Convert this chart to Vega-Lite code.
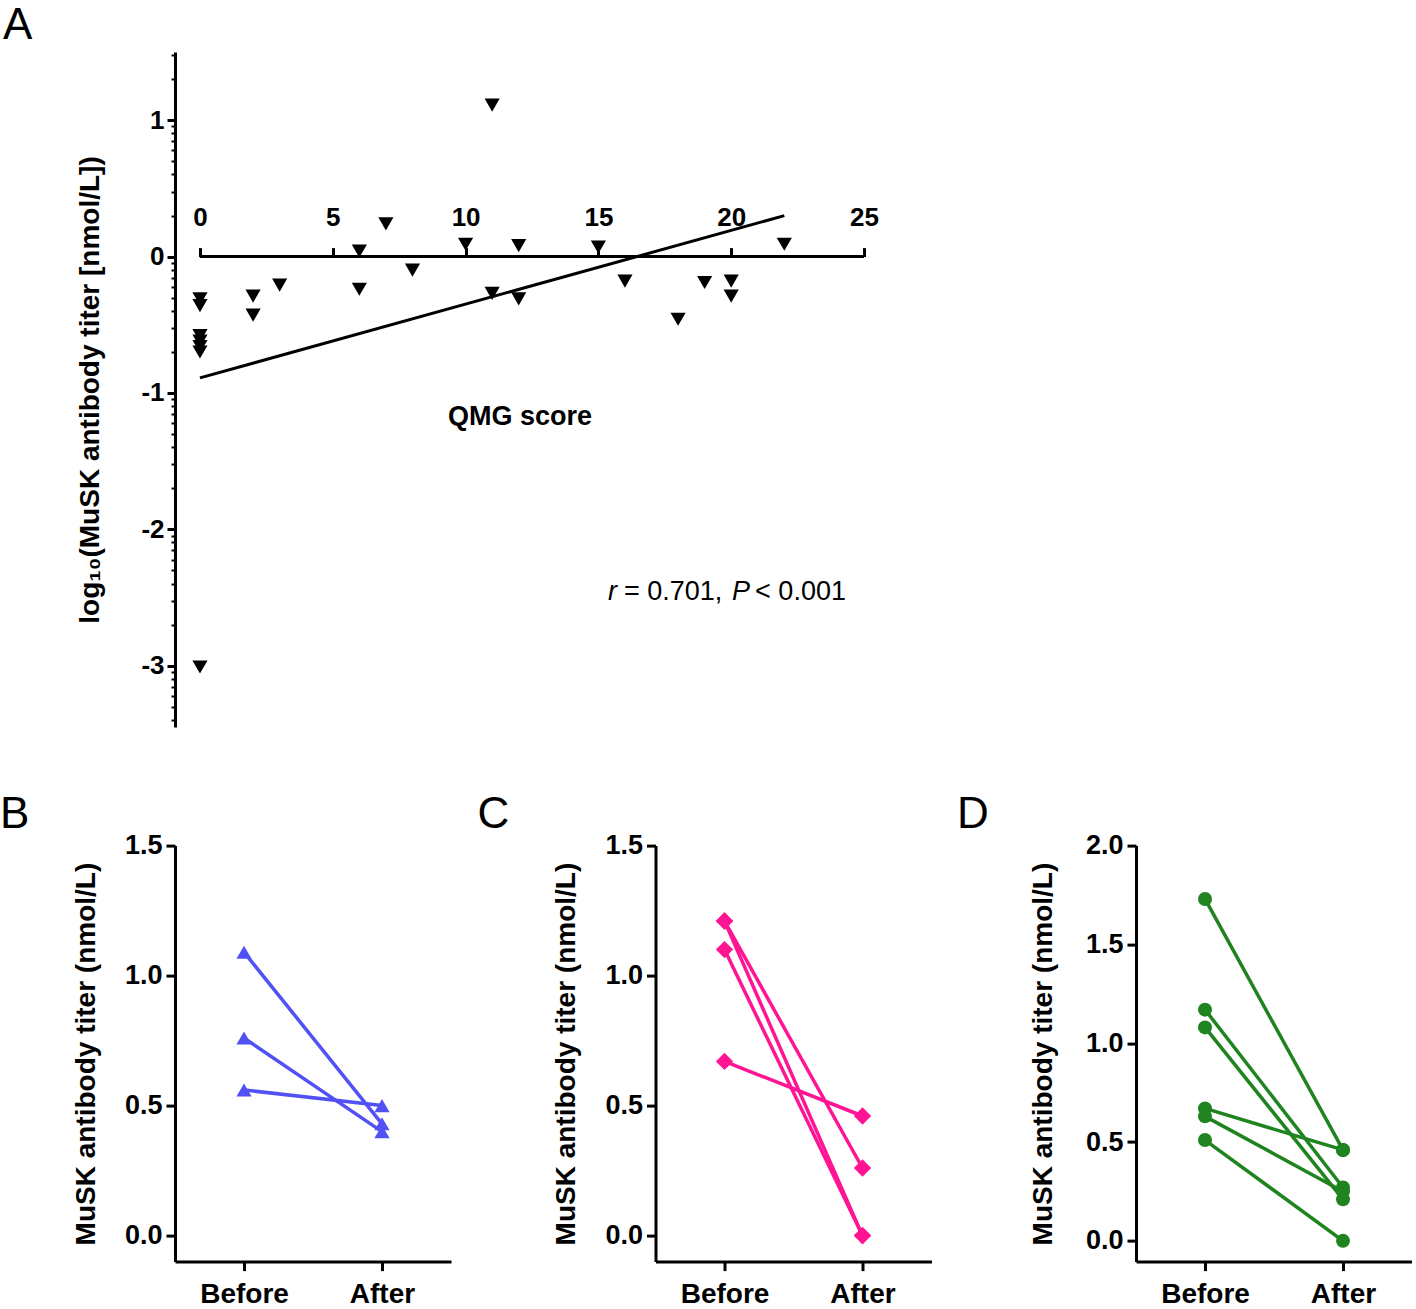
{
  "$schema": "https://vega.github.io/schema/vega-lite/v6.json",
  "padding": {"left": 0, "top": 4, "right": 0, "bottom": 0},
  "background": "white",
  "config": {
    "font": "Liberation Sans",
    "view": {"stroke": null},
    "axis": {"grid": false, "domainColor": "black", "tickColor": "black", "labelColor": "black", "titleColor": "black", "domainWidth": 3, "tickWidth": 3, "labelFontWeight": "bold", "titleFontWeight": "bold"},
    "title": {"color": "black", "fontWeight": "normal", "fontSize": 44, "anchor": "start", "frame": "group", "baseline": "alphabetic"}
  },
  "datasets": {
    "scatter": [
      {"qmg": 0, "log_titer": -0.31}, {"qmg": 0, "log_titer": -0.36}, {"qmg": 0, "log_titer": -0.58},
      {"qmg": 0, "log_titer": -0.62}, {"qmg": 0, "log_titer": -0.66}, {"qmg": 0, "log_titer": -0.70},
      {"qmg": 0, "log_titer": -3.01},
      {"qmg": 2, "log_titer": -0.29}, {"qmg": 2, "log_titer": -0.43}, {"qmg": 3, "log_titer": -0.21},
      {"qmg": 6, "log_titer": 0.04}, {"qmg": 6, "log_titer": -0.24}, {"qmg": 7, "log_titer": 0.24},
      {"qmg": 8, "log_titer": -0.10}, {"qmg": 10, "log_titer": 0.09}, {"qmg": 11, "log_titer": 1.11},
      {"qmg": 11, "log_titer": -0.27}, {"qmg": 12, "log_titer": 0.08}, {"qmg": 12, "log_titer": -0.31},
      {"qmg": 15, "log_titer": 0.07}, {"qmg": 16, "log_titer": -0.18}, {"qmg": 18, "log_titer": -0.46},
      {"qmg": 19, "log_titer": -0.19}, {"qmg": 20, "log_titer": -0.18}, {"qmg": 20, "log_titer": -0.29},
      {"qmg": 22, "log_titer": 0.09}
    ],
    "fit": [{"qmg": 0, "log_titer": -0.89}, {"qmg": 22, "log_titer": 0.30}],
    "panelB": [
      {"patient": "B1", "time": "Before", "titer": 1.09}, {"patient": "B1", "time": "After", "titer": 0.43},
      {"patient": "B2", "time": "Before", "titer": 0.76}, {"patient": "B2", "time": "After", "titer": 0.40},
      {"patient": "B3", "time": "Before", "titer": 0.56}, {"patient": "B3", "time": "After", "titer": 0.50}
    ],
    "panelC": [
      {"patient": "C1", "time": "Before", "titer": 1.21}, {"patient": "C1", "time": "After", "titer": 0.26},
      {"patient": "C2", "time": "Before", "titer": 1.21}, {"patient": "C2", "time": "After", "titer": 0.0},
      {"patient": "C3", "time": "Before", "titer": 1.10}, {"patient": "C3", "time": "After", "titer": 0.0},
      {"patient": "C4", "time": "Before", "titer": 0.67}, {"patient": "C4", "time": "After", "titer": 0.46}
    ],
    "panelD": [
      {"patient": "D1", "time": "Before", "titer": 1.73}, {"patient": "D1", "time": "After", "titer": 0.46},
      {"patient": "D2", "time": "Before", "titer": 1.17}, {"patient": "D2", "time": "After", "titer": 0.27},
      {"patient": "D3", "time": "Before", "titer": 1.08}, {"patient": "D3", "time": "After", "titer": 0.21},
      {"patient": "D4", "time": "Before", "titer": 0.67}, {"patient": "D4", "time": "After", "titer": 0.46},
      {"patient": "D5", "time": "Before", "titer": 0.63}, {"patient": "D5", "time": "After", "titer": 0.25},
      {"patient": "D6", "time": "Before", "titer": 0.51}, {"patient": "D6", "time": "After", "titer": 0.0}
    ]
  },
  "bounds": "flush",
  "spacing": 118.6,
  "vconcat": [
    {
      "width": 689,
      "height": 675,
      "title": {"text": "A", "dx": -172, "offset": 4},
      "resolve": {"axis": {"x": "independent", "y": "independent"}},
      "layer": [
        {
          "data": {"values": [{"from": 0, "to": 25, "level": 0}]},
          "mark": {"type": "rule", "strokeWidth": 3, "color": "black"},
          "encoding": {
            "x": {"field": "from", "type": "quantitative", "scale": {"domain": [-0.94, 25], "nice": false, "zero": false}, "axis": null},
            "x2": {"field": "to"},
            "y": {"field": "level", "type": "quantitative", "scale": {"domain": [-3.45, 1.5], "nice": false, "zero": false}, "axis": null}
          }
        },
        {
          "data": {"name": "fit"},
          "mark": {"type": "line", "color": "black", "strokeWidth": 3},
          "encoding": {
            "x": {"field": "qmg", "type": "quantitative", "scale": {"domain": [-0.94, 25], "nice": false, "zero": false}, "axis": null},
            "y": {"field": "log_titer", "type": "quantitative", "scale": {"domain": [-3.45, 1.5], "nice": false, "zero": false},
                  "axis": {
                    "orient": "left",
                    "values": [-3.398, -3.301, -3.222, -3.155, -3.097, -3.046,
                               -2.699, -2.523, -2.398, -2.301, -2.222, -2.155, -2.097, -2.046,
                               -1.699, -1.523, -1.398, -1.301, -1.222, -1.155, -1.097, -1.046,
                               -0.699, -0.523, -0.398, -0.301, -0.222, -0.155, -0.097, -0.046,
                               0.301, 0.477, 0.602, 0.699, 0.778, 0.845, 0.903, 0.954,
                               1.301, 1.477],
                    "labels": false, "domain": false, "tickSize": 4, "tickWidth": 2, "title": null
                  }}
          }
        },
        {
          "data": {"name": "scatter"},
          "mark": {"type": "point", "shape": "triangle-down", "filled": true, "size": 230, "color": "black", "opacity": 1},
          "encoding": {
            "x": {
              "field": "qmg", "type": "quantitative",
              "scale": {"domain": [-0.94, 25], "nice": false, "zero": false},
              "axis": {
                "orient": "top", "offset": -204.6, "domain": false,
                "values": [0, 5, 10, 15, 20, 25], "labelFlush": false, "labelOverlap": false,
                "tickSize": 9, "tickWidth": 3, "labelFontSize": 26, "labelFontWeight": "bold", "labelPadding": 17,
                "title": "QMG score", "titleFontSize": 27, "titleY": 160, "titleBaseline": "middle"
              }
            },
            "y": {
              "field": "log_titer", "type": "quantitative",
              "scale": {"domain": [-3.45, 1.5], "nice": false, "zero": false},
              "axis": {
                "orient": "left",
                "values": [-3, -2, -1, 0, 1],
                "labelExpr": "'' + datum.value",
                "labelFontSize": 26,
                "labelPadding": 3,
                "tickSize": 8,
                "title": "log₁₀(MuSK antibody titer [nmol/L])",
                "titleFontSize": 28,
                "titlePadding": 36
              }
            }
          }
        },
        {
          "data": {"values": [{"r": 0.701, "p": 0.001}]},
          "encoding": {
            "y": {"datum": -2.522, "type": "quantitative", "scale": {"domain": [-3.45, 1.5], "nice": false, "zero": false}, "axis": null}
          },
          "layer": [
            {
              "mark": {"type": "text", "text": "r", "fontStyle": "italic", "fontSize": 27, "align": "left", "baseline": "alphabetic", "color": "black"},
              "encoding": {"x": {"datum": 15.36, "type": "quantitative", "scale": {"domain": [-0.94, 25], "nice": false, "zero": false}, "axis": null}}
            },
            {
              "mark": {"type": "text", "text": "= 0.701,", "fontSize": 27, "align": "left", "baseline": "alphabetic", "color": "black"},
              "encoding": {"x": {"datum": 15.96, "type": "quantitative", "scale": {"domain": [-0.94, 25], "nice": false, "zero": false}, "axis": null}}
            },
            {
              "mark": {"type": "text", "text": "P", "fontStyle": "italic", "fontSize": 27, "align": "left", "baseline": "alphabetic", "color": "black"},
              "encoding": {"x": {"datum": 20.03, "type": "quantitative", "scale": {"domain": [-0.94, 25], "nice": false, "zero": false}, "axis": null}}
            },
            {
              "mark": {"type": "text", "text": "< 0.001", "fontSize": 27, "align": "left", "baseline": "alphabetic", "color": "black"},
              "encoding": {"x": {"datum": 20.9, "type": "quantitative", "scale": {"domain": [-0.94, 25], "nice": false, "zero": false}, "axis": null}}
            }
          ]
        }
      ]
    },
    {
      "bounds": "flush",
      "spacing": 204.5,
      "hconcat": [
        {
          "width": 276,
          "height": 416,
          "title": {"text": "B", "dx": -175, "offset": -5},
          "data": {"name": "panelB"},
          "encoding": {
            "x": {"field": "time", "type": "nominal", "sort": ["Before", "After"], "scale": {"type": "point", "padding": 0.5},
                  "axis": {"title": null, "labelAngle": 0, "labelFontSize": 28, "tickSize": 9, "labelPadding": 10}},
            "y": {"field": "titer", "type": "quantitative", "scale": {"domain": [-0.1, 1.5], "nice": false, "zero": false},
                  "axis": {"values": [0, 0.5, 1, 1.5], "format": ".1f", "labelFontSize": 27, "tickSize": 9, "labelPadding": 4,
                           "title": "MuSK antibody titer (nmol/L)", "titleFontSize": 28, "titlePadding": 24}}
          },
          "layer": [
            {"mark": {"type": "line", "color": "#5151F5", "strokeWidth": 3.5}, "encoding": {"detail": {"field": "patient"}}},
            {"mark": {"type": "point", "shape": "triangle-up", "filled": true, "size": 230, "color": "#5151F5", "opacity": 1}}
          ]
        },
        {
          "width": 276,
          "height": 416,
          "title": {"text": "C", "dx": -178, "offset": -5},
          "data": {"name": "panelC"},
          "encoding": {
            "x": {"field": "time", "type": "nominal", "sort": ["Before", "After"], "scale": {"type": "point", "padding": 0.5},
                  "axis": {"title": null, "labelAngle": 0, "labelFontSize": 28, "tickSize": 9, "labelPadding": 10}},
            "y": {"field": "titer", "type": "quantitative", "scale": {"domain": [-0.1, 1.5], "nice": false, "zero": false},
                  "axis": {"values": [0, 0.5, 1, 1.5], "format": ".1f", "labelFontSize": 27, "tickSize": 9, "labelPadding": 4,
                           "title": "MuSK antibody titer (nmol/L)", "titleFontSize": 28, "titlePadding": 24}}
          },
          "layer": [
            {"mark": {"type": "line", "color": "#FF1493", "strokeWidth": 3.5}, "encoding": {"detail": {"field": "patient"}}},
            {"mark": {"type": "point", "shape": "diamond", "filled": true, "size": 300, "color": "#FF1493", "opacity": 1}}
          ]
        },
        {
          "width": 276,
          "height": 416,
          "title": {"text": "D", "dx": -179, "offset": -5},
          "data": {"name": "panelD"},
          "encoding": {
            "x": {"field": "time", "type": "nominal", "sort": ["Before", "After"], "scale": {"type": "point", "padding": 0.5},
                  "axis": {"title": null, "labelAngle": 0, "labelFontSize": 28, "tickSize": 9, "labelPadding": 10}},
            "y": {"field": "titer", "type": "quantitative", "scale": {"domain": [-0.105, 2.0], "nice": false, "zero": false},
                  "axis": {"values": [0, 0.5, 1, 1.5, 2], "format": ".1f", "labelFontSize": 27, "tickSize": 9, "labelPadding": 4,
                           "title": "MuSK antibody titer (nmol/L)", "titleFontSize": 28, "titlePadding": 28}}
          },
          "layer": [
            {"mark": {"type": "line", "color": "#1F841F", "strokeWidth": 3.5}, "encoding": {"detail": {"field": "patient"}}},
            {"mark": {"type": "point", "shape": "circle", "filled": true, "size": 196, "color": "#1F841F", "opacity": 1}}
          ]
        }
      ]
    }
  ]
}
